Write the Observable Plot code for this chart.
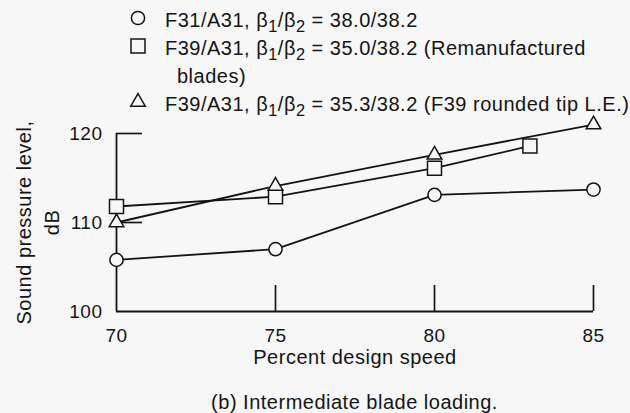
<!DOCTYPE html>
<html>
<head>
<meta charset="utf-8">
<script src="https://cdn.jsdelivr.net/npm/d3@7"></script>
<script src="https://cdn.jsdelivr.net/npm/@observablehq/plot@0.6"></script>
<style>
  html, body { margin: 0; padding: 0; background: #f7f7f7; }
  body {
    width: 630px; height: 413px; overflow: hidden;
    font-family: "Liberation Sans", Arial, Helvetica, sans-serif;
    color: #141414; letter-spacing: 0.5px;
  }
  #legend { position: relative; height: 108px; font-size: 20px; }
  .row { position: absolute; left: 0; height: 28px; line-height: 28px; white-space: nowrap; }
  .row svg { position: absolute; left: 131px; top: 5px; overflow: visible; }
  .row .txt { position: absolute; left: 165px; top: 0; }
  .row .txt.cont { left: 177px; }
  sub { font-size: 0.82em; line-height: 0; vertical-align: -0.28em; }
  #caption {
    margin-left: 116px; width: 477px; text-align: center;
    padding-top: 10px; font-size: 20px; line-height: 24px;
  }
</style>
</head>
<body>
<div id="legend"></div>
<div id="chart"></div>
<div id="caption">(b) Intermediate blade loading.</div>
<script>
// Sound pressure level (dB) against percent design speed, one array pair per rotor/stator configuration
const speedF31 = [70, 75, 80, 85];
const splF31 = [105.8, 107.0, 113.1, 113.7];

const speedF39 = [70, 75, 80, 83];
const splF39 = [111.8, 112.9, 116.1, 118.6];

const speedF39Rounded = [70, 75, 80, 85];
const splF39Rounded = [110.0, 114.1, 117.6, 121.0];

const seriesNames = ["F31/A31", "F39/A31 remanufactured", "F39/A31 rounded tip"];
const seriesSymbols = ["circle", "square", "triangle"];
const legendHtml = [
  "F31/A31, β<sub>1</sub>/β<sub>2</sub> = 38.0/38.2",
  "F39/A31, β<sub>1</sub>/β<sub>2</sub> = 35.0/38.2 (Remanufactured",
  "F39/A31, β<sub>1</sub>/β<sub>2</sub> = 35.3/38.2 (F39 rounded tip L.E.)"
];
const legendContinuation = "blades)";

const xDomain = [70, 85];
const yDomain = [100, 120];
const xTicks = [70, 75, 80, 85];
const yTicks = [100, 110, 120];
const xLabel = "Percent design speed";
const yLabel = "Sound pressure level,\ndB";

// Long-format table built from the arrays above
const seriesData = [
  [speedF31, splF31],
  [speedF39, splF39],
  [speedF39Rounded, splF39Rounded]
];
const rows = seriesData.flatMap(([speeds, spls], k) =>
  speeds.map((s, i) => ({series: seriesNames[k], symbol: seriesSymbols[k], speed: s, spl: spls[i]}))
);

const ink = "#141414";
const paper = "#f7f7f7";
const symbolRadius = {circle: 6.6, square: 7.9, triangle: 5.4};

// Legend (HTML above the plot)
const legend = d3.select("#legend");
const rowTops = [6, 34, 90];
legendHtml.forEach((html, k) => {
  const row = legend.append("div").attr("class", "row").style("top", rowTops[k] + "px");
  const svg = row.append("svg").attr("width", 14).attr("height", 14);
  const sym = {circle: d3.symbolCircle, square: d3.symbolSquare, triangle: d3.symbolTriangle}[seriesSymbols[k]];
  const r = symbolRadius[seriesSymbols[k]];
  svg.append("path")
    .attr("transform", "translate(7,7)")
    .attr("d", d3.symbol(sym, Math.PI * r * r)())
    .attr("fill", "none")
    .attr("stroke", ink)
    .attr("stroke-width", 1.5);
  row.append("span").attr("class", "txt").html(html);
});
legend.append("div").attr("class", "row").style("top", "62px")
  .append("span").attr("class", "txt cont").text(legendContinuation);

// Plot frame geometry
const width = 630, height = 272;
const marginLeft = 116, marginRight = 37, marginTop = 25, marginBottom = 69;
const frameW = width - marginLeft - marginRight;
const frameH = height - marginTop - marginBottom;
const tickLen = 26;

const chart = Plot.plot({
  width, height, marginLeft, marginRight, marginTop, marginBottom,
  style: {
    background: "transparent",
    color: ink,
    fontFamily: "'Liberation Sans', Arial, Helvetica, sans-serif",
    letterSpacing: "0.5px",
    overflow: "visible"
  },
  x: {domain: xDomain},
  y: {domain: yDomain},
  marks: [
    // L-shaped frame with inward ticks
    Plot.ruleX([xDomain[0]], {stroke: ink, strokeWidth: 1.8}),
    Plot.ruleY([yDomain[0]], {stroke: ink, strokeWidth: 1.8}),
    Plot.tickY(yTicks.filter((v) => v > yDomain[0]), {y: (d) => d, insetRight: frameW - tickLen, stroke: ink, strokeWidth: 1.7}),
    Plot.tickX(xTicks.filter((v) => v > xDomain[0]), {x: (d) => d, insetTop: frameH - tickLen, stroke: ink, strokeWidth: 1.7}),
    Plot.axisX({ticks: xTicks, tickSize: 0, tickPadding: 17, fontSize: 19, label: null}),
    Plot.axisY({ticks: yTicks, tickSize: 0, tickPadding: 14, fontSize: 19, label: null}),
    // Series lines, then markers on top
    Plot.line(rows, {x: "speed", y: "spl", z: "series", stroke: ink, strokeWidth: 1.8}),
    ...seriesSymbols.map((s) =>
      Plot.dot(rows.filter((d) => d.symbol === s), {
        x: "speed", y: "spl", symbol: s, r: symbolRadius[s],
        fill: paper, stroke: ink, strokeWidth: 1.5
      })
    ),
    // Axis titles
    Plot.text([xLabel], {text: (d) => d, frameAnchor: "bottom", dy: 52, fontSize: 20, fill: ink}),
    Plot.text([yLabel], {
      text: (d) => d, frameAnchor: "left", textAnchor: "middle", dx: -80, rotate: -90,
      lineHeight: 1.4, fontSize: 20, fill: ink
    })
  ]
});
document.getElementById("chart").append(chart);
</script>
</body>
</html>
